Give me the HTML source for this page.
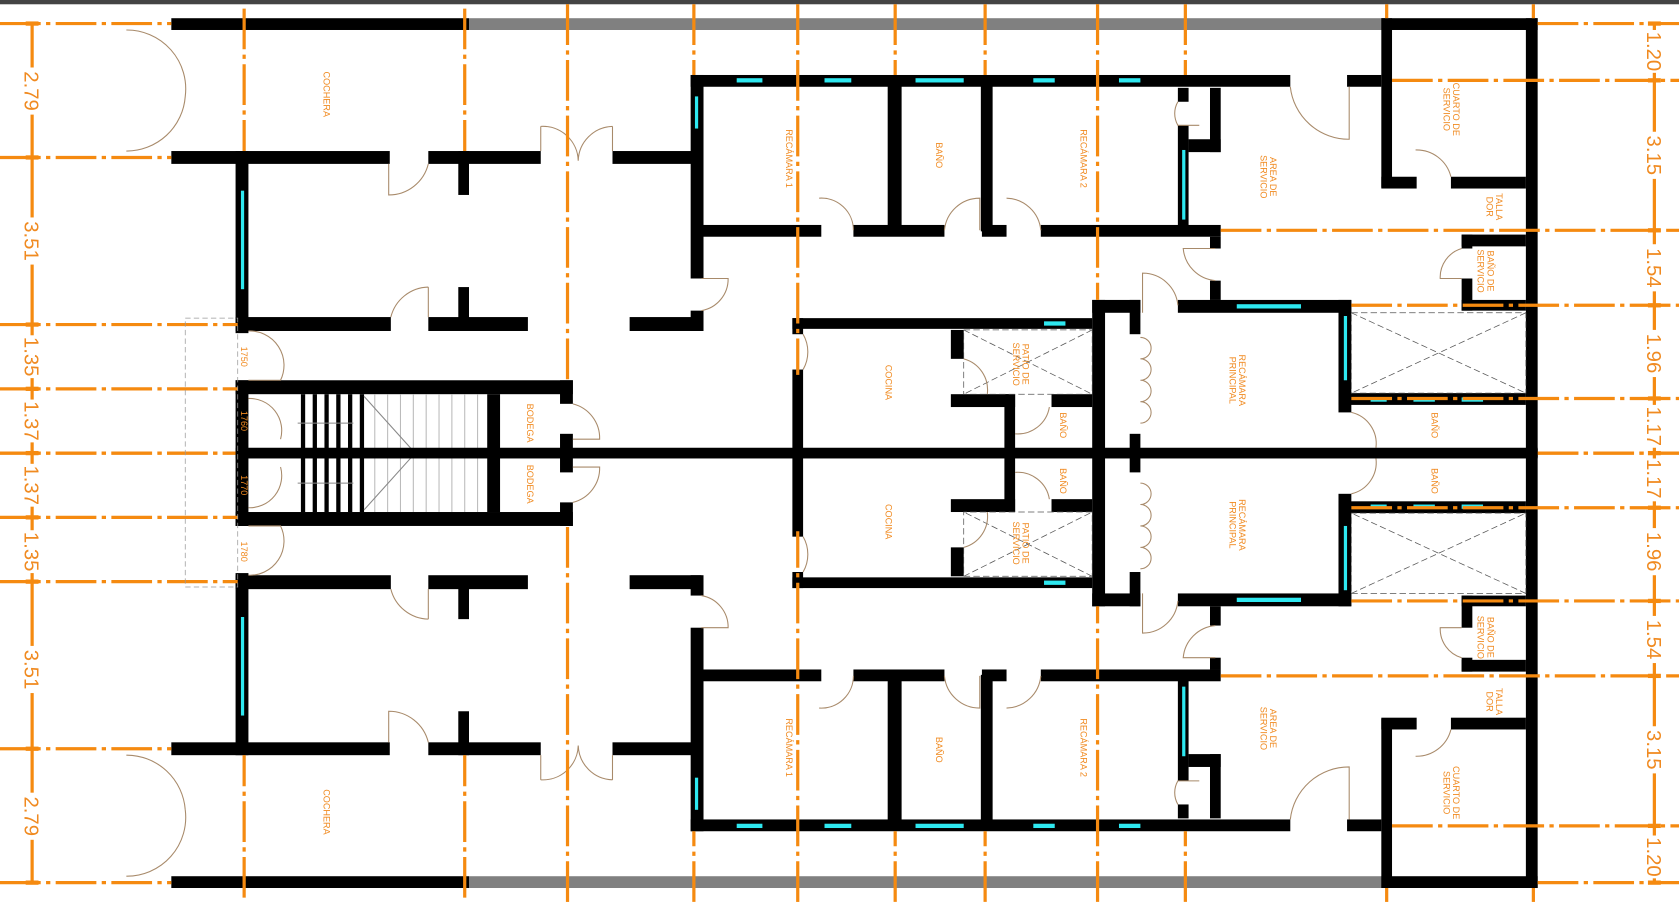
<!DOCTYPE html>
<html><head><meta charset="utf-8"><style>
html,body{margin:0;padding:0;background:#fff;width:1679px;height:903px;overflow:hidden}
svg{display:block}
.t{font-family:"Liberation Sans",sans-serif;fill:#f08a20;font-size:8.5px}
.d{font-family:"Liberation Sans",sans-serif;fill:#f08a20;font-size:19px}
</style></head><body>
<svg width="1679" height="903" viewBox="0 0 1568 843" preserveAspectRatio="none" xmlns="http://www.w3.org/2000/svg">
<rect x="0" y="0" width="1568" height="4" fill="#444"/>
<defs>
<g id="half">
 <g fill="#000">
  <rect x="160" y="17" width="278" height="11"/>
  <rect x="438" y="17" width="852" height="11" fill="#808080"/>
  <rect x="1290" y="17" width="146" height="11"/>
  <rect x="1290" y="17" width="10" height="158"/>
  <rect x="1425" y="17" width="11" height="410"/>
  <rect x="160" y="141" width="204" height="12"/>
  <rect x="400" y="141" width="105" height="12"/>
  <rect x="572" y="141" width="75" height="12"/>
  <rect x="428" y="141" width="10" height="41"/>
  <rect x="220" y="141" width="12" height="170"/>
  <rect x="220" y="296" width="145" height="13"/>
  <rect x="400" y="296" width="93" height="13"/>
  <rect x="428" y="268" width="10" height="30"/>
  <rect x="588" y="296" width="67" height="13"/>
  <rect x="645" y="70" width="12" height="190"/>
  <rect x="645" y="290" width="12" height="19"/>
  <rect x="645" y="70" width="560" height="11"/>
  <rect x="1258" y="70" width="32" height="11"/>
  <rect x="652" y="210" width="115" height="11"/>
  <rect x="797" y="210" width="85" height="11"/>
  <rect x="829" y="76" width="13" height="140"/>
  <rect x="916" y="76" width="11" height="140"/>
  <rect x="917" y="210" width="23" height="11"/>
  <rect x="972" y="210" width="168" height="11"/>
  <rect x="1100" y="82" width="10" height="13"/>
  <rect x="1100" y="117" width="10" height="100"/>
  <rect x="1130" y="82" width="10" height="60"/>
  <rect x="1110" y="130" width="30" height="12"/>
  <rect x="1130" y="221" width="10" height="11"/>
  <rect x="1130" y="262" width="10" height="18"/>
  <rect x="1290" y="165" width="33" height="11"/>
  <rect x="1355" y="165" width="70" height="11"/>
  <rect x="1365" y="219" width="60" height="11"/>
  <rect x="1365" y="219" width="10" height="13"/>
  <rect x="1365" y="260" width="10" height="30"/>
  <rect x="1365" y="280" width="60" height="10"/>
  <rect x="740" y="297" width="280" height="10"/>
  <rect x="740" y="297" width="10" height="15"/>
  <rect x="740" y="345" width="10" height="78"/>
  <rect x="1020" y="280" width="12" height="143"/>
  <rect x="1020" y="280" width="45" height="12"/>
  <rect x="1055" y="280" width="10" height="32"/>
  <rect x="1055" y="405" width="10" height="18"/>
  <rect x="1100" y="280" width="162" height="12"/>
  <rect x="1250" y="280" width="12" height="105"/>
  <rect x="1250" y="367" width="175" height="11"/>
  <rect x="888" y="308" width="12" height="27"/>
  <rect x="888" y="368" width="60" height="12"/>
  <rect x="938" y="368" width="10" height="55"/>
  <rect x="982" y="368" width="38" height="12"/>
  <rect x="220" y="355" width="315" height="13"/>
  <rect x="220" y="355" width="12" height="68"/>
  <rect x="523" y="355" width="12" height="22"/>
  <rect x="523" y="405" width="12" height="18"/>
  <rect x="455" y="368" width="12" height="55"/>
  <rect x="281" y="368" width="4" height="52"/><rect x="292" y="368" width="4" height="52"/>
  <rect x="303" y="368" width="4" height="52"/><rect x="314" y="368" width="4" height="52"/>
  <rect x="325" y="368" width="4" height="52"/><rect x="336" y="368" width="4" height="52"/>
 </g>
 <g stroke="#bbb" stroke-width="1">
  <line x1="350" y1="368" x2="350" y2="420"/><line x1="362" y1="368" x2="362" y2="420"/>
  <line x1="374" y1="368" x2="374" y2="420"/><line x1="386" y1="368" x2="386" y2="420"/>
  <line x1="398" y1="368" x2="398" y2="420"/><line x1="410" y1="368" x2="410" y2="420"/>
  <line x1="422" y1="368" x2="422" y2="420"/><line x1="434" y1="368" x2="434" y2="420"/>
  <line x1="446" y1="368" x2="446" y2="420"/>
  <line x1="340" y1="370" x2="385" y2="420" stroke="#888"/>
  <line x1="278" y1="395" x2="330" y2="395" stroke="#888"/>
 </g>
 <g fill="#2ee8f0">
  <rect x="688" y="73" width="24" height="4"/><rect x="770" y="73" width="25" height="4"/>
  <rect x="855" y="73" width="45" height="4"/><rect x="965" y="73" width="20" height="4"/>
  <rect x="1045" y="73" width="20" height="4"/>
  <rect x="649" y="90" width="3" height="30"/><rect x="225" y="178" width="3" height="92"/>
  <rect x="1104" y="140" width="3" height="65"/><rect x="1255" y="295" width="3" height="60"/>
  <rect x="1155" y="284" width="60" height="4"/><rect x="975" y="300" width="20" height="4"/>
  <rect x="1280" y="371" width="15" height="4"/><rect x="1320" y="371" width="20" height="4"/>
  <rect x="1365" y="371" width="20" height="4"/>
 </g>
 <g fill="none" stroke="#555" stroke-width="0.7" stroke-dasharray="6 3">
  <rect x="900" y="308" width="120" height="60"/>
  <line x1="900" y1="308" x2="1020" y2="368"/><line x1="1020" y1="308" x2="900" y2="368"/>
  <rect x="1262" y="292" width="163" height="75"/>
  <line x1="1262" y1="292" x2="1425" y2="367"/><line x1="1425" y1="292" x2="1262" y2="367"/>
 </g>
 <g fill="none" stroke="#a88a6a" stroke-width="1">
  <path d="M118 28 A55 55 0 0 1 173 90 M118 141 A55 55 0 0 0 173 90"/>
  <path d="M363 153 V182 A38 38 0 0 0 400 153"/>
  <path d="M505 118 V141 M505 118 A33 33 0 0 1 540 150 M572 118 V141 M572 118 A33 33 0 0 0 540 150"/>
  <path d="M400 268 V296 M400 268 A37 37 0 0 0 365 296"/>
  <path d="M655 260 H680 A30 30 0 0 1 655 290"/>
  <path d="M232 309 A32 32 0 0 1 262 355 H232"/>
  <path d="M232 372 A30 30 0 0 1 262 410"/>
  <path d="M535 377 A33 33 0 0 1 560 410 H535"/>
  <path d="M765 185 A30 30 0 0 1 797 215"/>
  <path d="M882 215 A33 33 0 0 1 915 185 V215"/>
  <path d="M940 185 A33 33 0 0 1 972 215"/>
  <path d="M1205 81 A55 55 0 0 0 1260 130 V81"/>
  <path d="M1100 95 A22 22 0 0 0 1100 117 H1120"/>
  <path d="M1322 140 A33 33 0 0 1 1355 165"/>
  <path d="M1135 232 H1105 A33 33 0 0 0 1135 262"/>
  <path d="M1067 292 V255 A33 33 0 0 1 1100 285"/>
  <path d="M1365 232 A28 28 0 0 0 1345 260 H1365"/>
  <path d="M750 312 A33 33 0 0 1 750 345"/>
  <path d="M900 335 A30 30 0 0 1 922 368"/>
  <path d="M948 405 A30 30 0 0 0 980 380"/>
  <path d="M1065 315 A10 10 0 0 1 1065 335 A10 10 0 0 1 1065 355 A10 10 0 0 1 1065 375 A10 10 0 0 1 1065 395"/>
  <path d="M1262 385 A30 30 0 0 1 1285 418"/>
 </g>
 <g stroke="#f58a10" stroke-width="3" stroke-dasharray="38 5 4 5" fill="none">
  <line x1="0" y1="22" x2="160" y2="22"/><line x1="0" y1="147" x2="160" y2="147"/>
  <line x1="0" y1="303" x2="222" y2="303"/><line x1="0" y1="363" x2="222" y2="363"/>
  <line x1="0" y1="423" x2="222" y2="423"/>
  <line x1="1436" y1="22" x2="1568" y2="22"/><line x1="1300" y1="75" x2="1568" y2="75"/>
  <line x1="1140" y1="215" x2="1568" y2="215"/><line x1="1262" y1="285" x2="1568" y2="285"/>
  <line x1="1262" y1="372" x2="1568" y2="372"/><line x1="1436" y1="423" x2="1568" y2="423"/>
  <line x1="228" y1="8" x2="228" y2="141"/><line x1="434" y1="8" x2="434" y2="141"/>
  <line x1="530" y1="4" x2="530" y2="358"/><line x1="648" y1="4" x2="648" y2="70"/>
  <line x1="745" y1="4" x2="745" y2="350"/><line x1="836" y1="4" x2="836" y2="70"/>
  <line x1="920" y1="4" x2="920" y2="70"/><line x1="1025" y1="4" x2="1025" y2="280"/>
  <line x1="1107" y1="4" x2="1107" y2="70"/><line x1="1295" y1="4" x2="1295" y2="17"/>
  <line x1="1432" y1="4" x2="1432" y2="17"/>
 </g>
</g>
</defs>
<use href="#half"/>
<use href="#half" transform="matrix(1,0,0,-1,0,846)"/>
<rect x="220" y="418" width="1216" height="10" fill="#000"/>
<rect x="173" y="297" width="49" height="251" fill="none" stroke="#999" stroke-width="0.7" stroke-dasharray="5 3"/>
<g stroke="#f58a10" stroke-width="3">
 <line x1="30" y1="22" x2="30" y2="825"/><line x1="1545" y1="22" x2="1545" y2="825"/>
</g>
<g fill="#f58a10">
 <rect x="24" y="20" width="12" height="4"/><rect x="24" y="145" width="12" height="4"/><rect x="24" y="301" width="12" height="4"/>
 <rect x="24" y="361" width="12" height="4"/><rect x="24" y="421" width="12" height="4"/><rect x="24" y="481" width="12" height="4"/>
 <rect x="24" y="541" width="12" height="4"/><rect x="24" y="697" width="12" height="4"/><rect x="24" y="822" width="12" height="4"/>
 <rect x="1539" y="20" width="12" height="4"/><rect x="1539" y="73" width="12" height="4"/><rect x="1539" y="213" width="12" height="4"/>
 <rect x="1539" y="283" width="12" height="4"/><rect x="1539" y="370" width="12" height="4"/><rect x="1539" y="421" width="12" height="4"/>
 <rect x="1539" y="472" width="12" height="4"/><rect x="1539" y="559" width="12" height="4"/><rect x="1539" y="629" width="12" height="4"/>
 <rect x="1539" y="769" width="12" height="4"/><rect x="1539" y="822" width="12" height="4"/>
</g>
<g fill="#fff">
 <rect x="21" y="63" width="18" height="44"/><rect x="21" y="203" width="18" height="44"/>
 <rect x="21" y="313" width="18" height="40"/><rect x="21" y="373" width="18" height="40"/>
 <rect x="21" y="433" width="18" height="40"/><rect x="21" y="495" width="18" height="40"/>
 <rect x="21" y="603" width="18" height="44"/><rect x="21" y="740" width="18" height="44"/>
 <rect x="1536" y="28" width="18" height="40"/><rect x="1536" y="123" width="18" height="44"/>
 <rect x="1536" y="228" width="18" height="44"/><rect x="1536" y="308" width="18" height="44"/>
 <rect x="1536" y="378" width="18" height="40"/><rect x="1536" y="428" width="18" height="40"/>
 <rect x="1536" y="493" width="18" height="44"/><rect x="1536" y="575" width="18" height="44"/>
 <rect x="1536" y="678" width="18" height="44"/><rect x="1536" y="780" width="18" height="40"/>
</g>
<g class="d" text-anchor="middle">
 <text transform="translate(23,85) rotate(90)">2.79</text>
 <text transform="translate(23,225) rotate(90)">3.51</text>
 <text transform="translate(23,333) rotate(90)">1.35</text>
 <text transform="translate(23,393) rotate(90)">1.37</text>
 <text transform="translate(23,453) rotate(90)">1.37</text>
 <text transform="translate(23,515) rotate(90)">1.35</text>
 <text transform="translate(23,625) rotate(90)">3.51</text>
 <text transform="translate(23,762) rotate(90)">2.79</text>
 <text transform="translate(1538,48) rotate(90)">1.20</text>
 <text transform="translate(1538,145) rotate(90)">3.15</text>
 <text transform="translate(1538,250) rotate(90)">1.54</text>
 <text transform="translate(1538,330) rotate(90)">1.96</text>
 <text transform="translate(1538,398) rotate(90)">1.17</text>
 <text transform="translate(1538,447) rotate(90)">1.17</text>
 <text transform="translate(1538,515) rotate(90)">1.96</text>
 <text transform="translate(1538,597) rotate(90)">1.54</text>
 <text transform="translate(1538,700) rotate(90)">3.15</text>
 <text transform="translate(1538,800) rotate(90)">1.20</text>
</g>
<g class="t" text-anchor="middle">
 <text transform="translate(302,88) rotate(90)">COCHERA</text>
 <text transform="translate(302,758) rotate(90)">COCHERA</text>
 <text transform="translate(734,148) rotate(90)">RECÁMARA 1</text>
 <text transform="translate(734,698) rotate(90)">RECÁMARA 1</text>
 <text transform="translate(874,145) rotate(90)">BAÑO</text>
 <text transform="translate(874,700) rotate(90)">BAÑO</text>
 <text transform="translate(1009,148) rotate(90)">RECÁMARA 2</text>
 <text transform="translate(1009,698) rotate(90)">RECÁMARA 2</text>
 <text transform="translate(1186,165) rotate(90)"><tspan x="0" dy="0">AREA DE</tspan><tspan x="0" dy="9">SERVICIO</tspan></text>
 <text transform="translate(1186,680) rotate(90)"><tspan x="0" dy="0">AREA DE</tspan><tspan x="0" dy="9">SERVICIO</tspan></text>
 <text transform="translate(1357,102) rotate(90)"><tspan x="0" dy="0">CUARTO DE</tspan><tspan x="0" dy="9">SERVICIO</tspan></text>
 <text transform="translate(1357,740) rotate(90)"><tspan x="0" dy="0">CUARTO DE</tspan><tspan x="0" dy="9">SERVICIO</tspan></text>
 <text transform="translate(1397,193) rotate(90)"><tspan x="0" dy="0">TALLA</tspan><tspan x="0" dy="9">DOR</tspan></text>
 <text transform="translate(1397,655) rotate(90)"><tspan x="0" dy="0">TALLA</tspan><tspan x="0" dy="9">DOR</tspan></text>
 <text transform="translate(1389,253) rotate(90)"><tspan x="0" dy="0">BAÑO DE</tspan><tspan x="0" dy="9">SERVICIO</tspan></text>
 <text transform="translate(1389,595) rotate(90)"><tspan x="0" dy="0">BAÑO DE</tspan><tspan x="0" dy="9">SERVICIO</tspan></text>
 <text transform="translate(1157,355) rotate(90)"><tspan x="0" dy="0">RECÁMARA</tspan><tspan x="0" dy="9">PRINCIPAL</tspan></text>
 <text transform="translate(1157,490) rotate(90)"><tspan x="0" dy="0">RECÁMARA</tspan><tspan x="0" dy="9">PRINCIPAL</tspan></text>
 <text transform="translate(955,340) rotate(90)"><tspan x="0" dy="0">PATIO DE</tspan><tspan x="0" dy="9">SERVICIO</tspan></text>
 <text transform="translate(955,507) rotate(90)"><tspan x="0" dy="0">PATIO DE</tspan><tspan x="0" dy="9">SERVICIO</tspan></text>
 <text transform="translate(827,357) rotate(90)">COCINA</text>
 <text transform="translate(827,487) rotate(90)">COCINA</text>
 <text transform="translate(990,397) rotate(90)">BAÑO</text>
 <text transform="translate(990,449) rotate(90)">BAÑO</text>
 <text transform="translate(1337,397) rotate(90)">BAÑO</text>
 <text transform="translate(1337,449) rotate(90)">BAÑO</text>
 <text transform="translate(492,395) rotate(90)">BODEGA</text>
 <text transform="translate(492,452) rotate(90)">BODEGA</text>
 <text transform="translate(225,333) rotate(90)">1750</text>
 <text transform="translate(225,393) rotate(90)">1760</text>
 <text transform="translate(225,453) rotate(90)">1770</text>
 <text transform="translate(225,515) rotate(90)">1780</text>
</g>
</svg>
</body></html>
